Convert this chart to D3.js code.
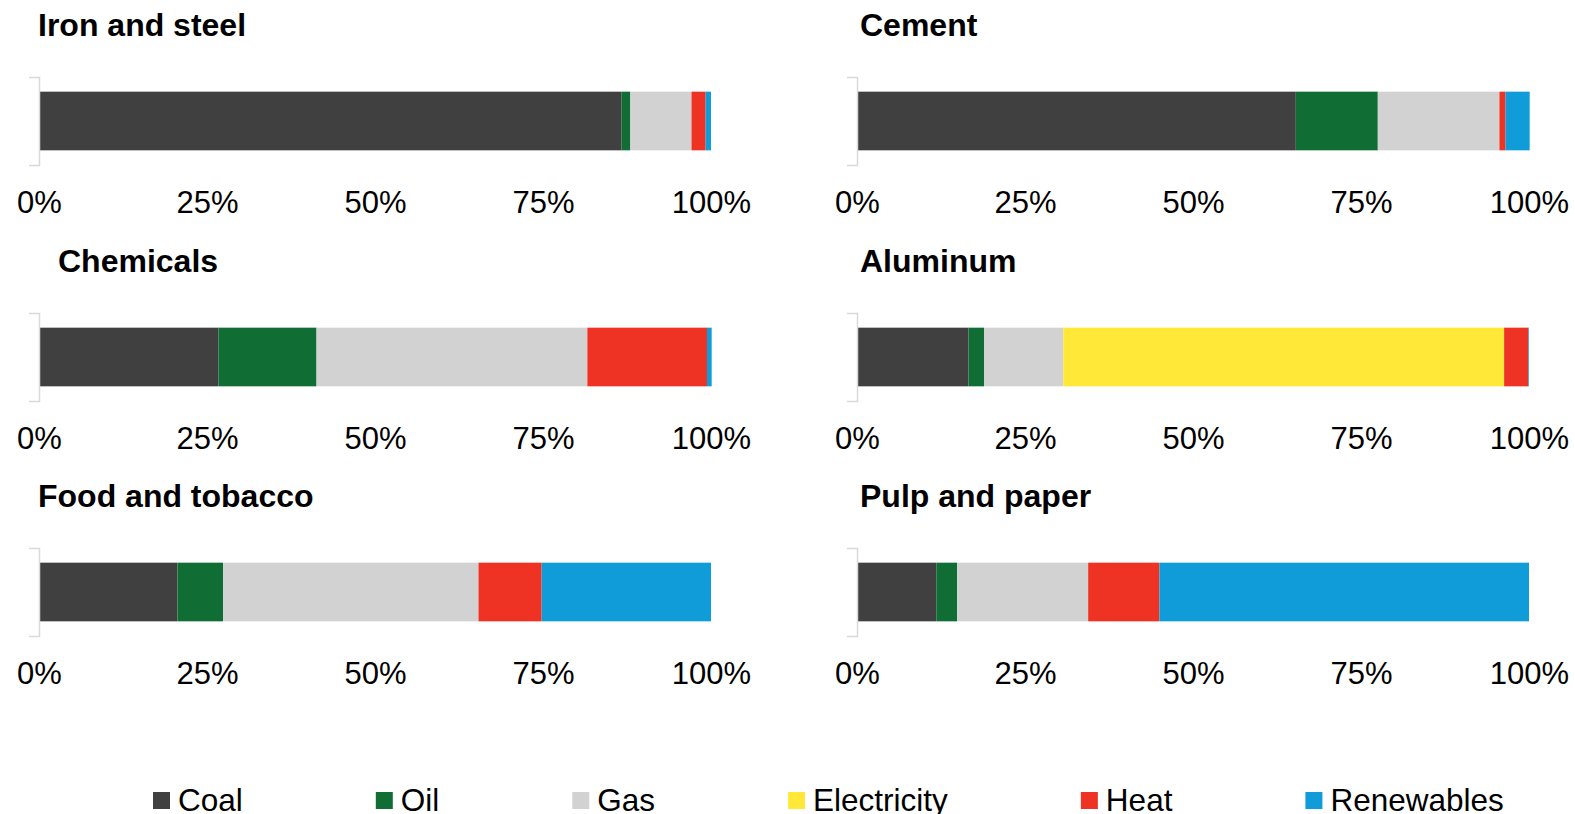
<!doctype html>
<html>
<head>
<meta charset="utf-8">
<title>Industry energy mix</title>
<style>
  body { margin: 0; background: #fff; }
  svg { display: block; font-family: "Liberation Sans", Arial, sans-serif; }
  .title { font-weight: bold; font-size: 32px; fill: #000; }
  .xaxis text { font-size: 31px; fill: #000; }
  .yaxis path { stroke: #d9d9d9; stroke-width: 1.5px; }
  .legend text { font-size: 31.5px; fill: #000; }
</style>
</head>
<body>
<svg width="1575" height="814"></svg>
<script src="https://cdn.jsdelivr.net/npm/d3@7"></script>
<script>
var sectors = ["Iron and steel", "Cement", "Chemicals", "Aluminum", "Food and tobacco", "Pulp and paper"];
var fuels = ["Coal", "Oil", "Gas", "Electricity", "Heat", "Renewables"];
var colors = ["#404040", "#106e35", "#d2d2d2", "#ffe838", "#ee3224", "#0f9cd9"];

// shares in %, one value per sector
var coal        = [86.7, 65.3, 26.7, 16.6, 20.6, 11.8];
var oil         = [1.3, 12.2, 14.6, 2.3, 6.8, 3.1];
var gas         = [9.1, 18.1, 40.3, 11.8, 38.0, 19.5];
var electricity = [0, 0, 0, 65.6, 0, 0];
var heat        = [2.1, 0.9, 17.8, 3.6, 9.4, 10.6];
var renewables  = [0.8, 3.6, 0.7, 0.1, 25.2, 55.0];
var tickValues  = [0, 25, 50, 75, 100];

var series = [coal, oil, gas, electricity, heat, renewables];
var rows = sectors.map(function(s, i) {
    var r = { sector: s };
    fuels.forEach(function(f, j) { r[f] = series[j][i]; });
    return r;
});
var stacked = d3.stack().keys(fuels)(rows);
var color = d3.scaleOrdinal().domain(fuels).range(colors);

var svg = d3.select("svg");

var panelW = 672, panelH = 88;
var colX = [39, 857];
var rowY = [77, 313, 548];
var titleDx = [-1, 3, 19, 3, -1, 3];

var x = d3.scaleLinear().domain([0, 100]).range([0, panelW]);

sectors.forEach(function(s, i) {
    var g = svg.append("g")
        .attr("transform", "translate(" + colX[i % 2] + "," + rowY[Math.floor(i / 2)] + ")");

    var y = d3.scaleBand().domain([s]).range([0, panelH]).padding(0.2);

    g.append("text")
        .attr("class", "title")
        .attr("x", titleDx[i])
        .attr("y", -41)
        .text(s);

    g.selectAll("rect")
        .data(stacked.map(function(layer) { return { key: layer.key, d: layer[i] }; }))
        .enter().append("rect")
        .attr("x", function(d) { return x(d.d[0]); })
        .attr("width", function(d) { return x(d.d[1]) - x(d.d[0]); })
        .attr("y", y(s))
        .attr("height", y.bandwidth())
        .attr("fill", function(d) { return color(d.key); });

    g.append("g")
        .attr("class", "yaxis")
        .call(d3.axisLeft(y).tickSizeInner(0).tickSizeOuter(10).tickFormat(""))
        .call(function(a) { a.selectAll(".tick").remove(); });

    var xa = g.append("g")
        .attr("class", "xaxis")
        .attr("transform", "translate(0,136)")
        .call(d3.axisBottom(x).tickValues(tickValues).tickSize(0).tickFormat(function(d) { return d + "%"; }));
    xa.select(".domain").remove();
    xa.selectAll("text").attr("y", 0).attr("dy", null)
        .attr("font-family", null).attr("font-size", null);
});

// legend: items placed one after another with a fixed gap
var legend = svg.append("g").attr("class", "legend");
var lx = 153, gap = 133;
fuels.forEach(function(f) {
    var item = legend.append("g").attr("transform", "translate(" + lx + ",0)");
    item.append("rect")
        .attr("x", 0).attr("y", 792)
        .attr("width", 17).attr("height", 17)
        .attr("fill", color(f));
    var t = item.append("text")
        .attr("x", 25).attr("y", 811)
        .text(f);
    lx += 25 + t.node().getComputedTextLength() + gap;
});
</script>
</body>
</html>
